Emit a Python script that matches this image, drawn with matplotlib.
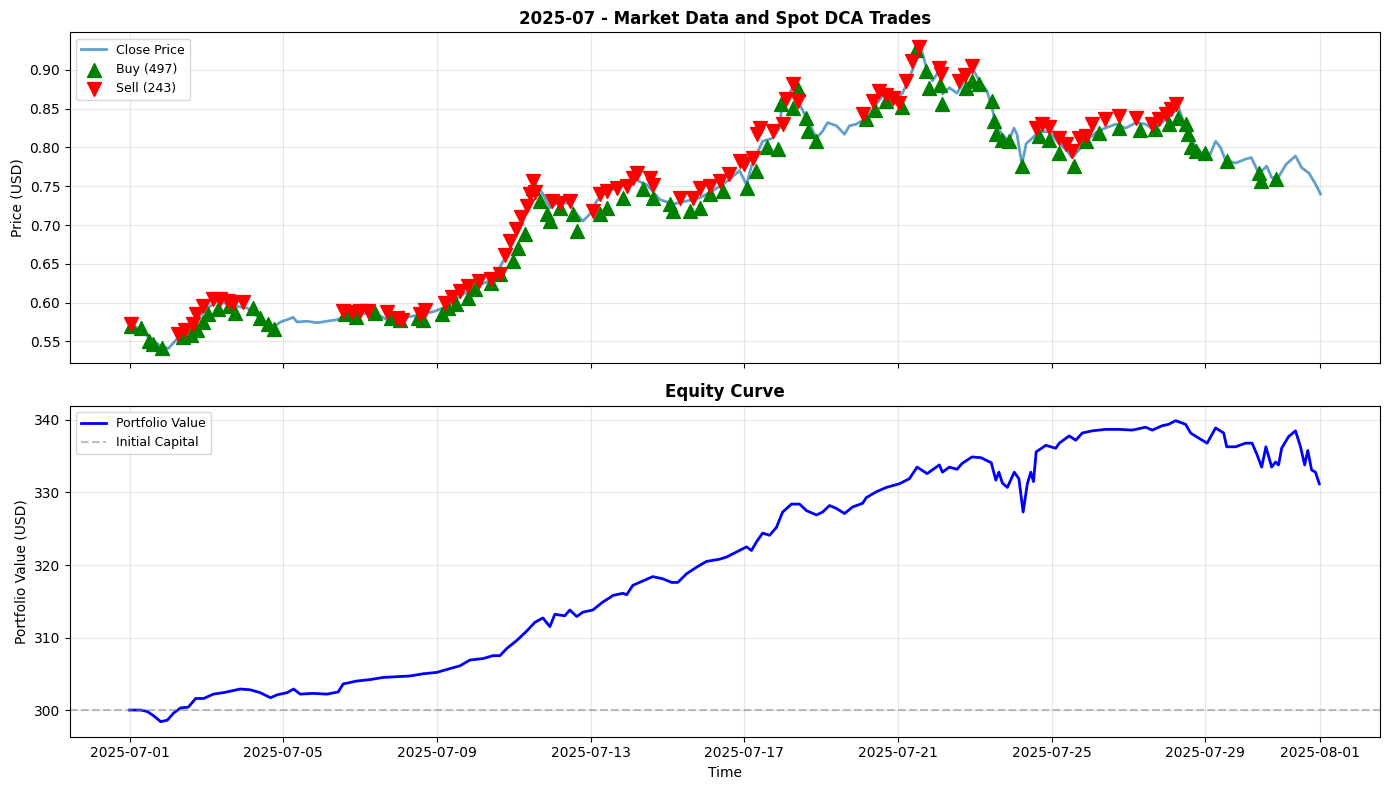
import matplotlib
matplotlib.use("Agg")
import matplotlib.pyplot as plt
import matplotlib.dates as mdates
import pandas as pd

# days since 2025-07-01 00:00
price_day = [0.0, 0.29, 0.55, 0.81, 1.01, 1.25, 1.51, 1.77, 2.03, 2.29, 2.55, 2.81, 3.07, 3.33,
             3.59, 3.75, 3.93, 4.10, 4.26, 4.36, 4.62, 4.88, 5.14, 5.40, 5.74, 6.08, 6.44, 6.70,
             6.96, 7.30, 7.64, 7.95, 8.26, 8.68, 9.12, 9.46, 9.72, 9.90, 10.08, 10.24, 10.42,
             10.55, 10.76, 10.94, 11.20, 11.46, 11.64, 11.80, 11.98, 12.16, 12.42, 12.76, 13.10,
             13.46, 13.80, 14.14, 14.50, 14.84, 15.18, 15.54, 15.88, 16.06, 16.20, 16.48, 16.74,
             16.92, 17.00, 17.18, 17.30, 17.44, 17.62, 17.88, 18.04, 18.17, 18.40, 18.61, 18.74,
             18.92, 19.18, 19.44, 19.70, 19.96, 20.12, 20.30, 20.48, 20.61, 20.74, 20.90, 21.08,
             21.16, 21.34, 21.54, 21.78, 21.93, 22.12, 22.32, 22.45, 22.55, 22.71, 22.89, 23.02,
             23.10, 23.23, 23.34, 23.50, 23.67, 23.94, 24.20, 24.40, 24.53, 24.70, 24.90, 25.15,
             25.40, 25.67, 25.93, 26.20, 26.45, 26.62, 26.87, 27.13, 27.31, 27.50, 27.65, 27.91,
             28.09, 28.27, 28.40, 28.53, 28.80, 29.05, 29.20, 29.40, 29.60, 29.73, 29.90, 30.10,
             30.35, 30.51, 30.70, 30.87, 31.0]
price = [0.573, 0.565, 0.553, 0.544, 0.541, 0.554, 0.567, 0.580, 0.593, 0.602, 0.598, 0.595, 0.593,
         0.582, 0.573, 0.569, 0.575, 0.578, 0.581, 0.575, 0.576, 0.574, 0.576, 0.578, 0.585, 0.586,
         0.585, 0.578, 0.576, 0.582, 0.585, 0.589, 0.595, 0.611, 0.623, 0.630, 0.653, 0.670, 0.688,
         0.705, 0.731, 0.754, 0.740, 0.722, 0.731, 0.727, 0.714, 0.705, 0.714, 0.731, 0.744, 0.748,
         0.760, 0.752, 0.733, 0.727, 0.731, 0.735, 0.744, 0.756, 0.770, 0.752, 0.778, 0.808, 0.812,
         0.825, 0.864, 0.869, 0.882, 0.856, 0.838, 0.812, 0.821, 0.832, 0.828, 0.817, 0.828, 0.830,
         0.838, 0.856, 0.873, 0.864, 0.870, 0.890, 0.912, 0.927, 0.903, 0.886, 0.899, 0.869, 0.877,
         0.870, 0.890, 0.903, 0.886, 0.873, 0.851, 0.830, 0.817, 0.808, 0.825, 0.817, 0.778, 0.805,
         0.812, 0.821, 0.820, 0.805, 0.796, 0.787, 0.796, 0.808, 0.819, 0.825, 0.830, 0.825, 0.832,
         0.830, 0.824, 0.832, 0.843, 0.851, 0.825, 0.808, 0.793, 0.787, 0.808, 0.800, 0.783, 0.780,
         0.785, 0.787, 0.766, 0.776, 0.761, 0.761, 0.778, 0.789, 0.774, 0.767, 0.753, 0.740]

buy_day = [0.05, 0.3, 0.5, 0.6, 0.85, 1.4, 1.6, 1.75, 1.9, 2.05, 2.3, 2.6, 2.75, 3.2, 3.4, 3.6, 3.75,
           5.6, 5.9, 6.4, 6.8, 7.05, 7.5, 7.64, 8.13, 8.3, 8.5, 8.8, 9.0, 9.4, 9.64, 9.98, 10.1, 10.3,
           10.5, 10.68, 10.86, 10.94, 11.2, 11.54, 11.64, 12.24, 12.42, 12.84, 13.36, 13.62, 14.06,
           14.14, 14.58, 14.84, 15.1, 15.44, 16.06, 16.3, 16.58, 16.87, 16.97, 17.26, 17.4, 17.62,
           17.65, 17.88, 19.18, 19.4, 19.7, 20.12, 20.48, 20.74, 20.82, 21.1, 21.16, 21.78, 21.93,
           22.1, 22.45, 22.5, 22.55, 22.71, 22.89, 23.23, 23.67, 23.94, 24.2, 24.58, 24.9, 25.23,
           25.76, 26.3, 26.7, 27.05, 27.3, 27.5, 27.55, 27.62, 27.75, 28.0, 28.56, 29.4, 29.45, 29.83]
buy_price = [0.570, 0.567, 0.551, 0.547, 0.541, 0.556, 0.558, 0.565, 0.575, 0.585, 0.592, 0.596,
             0.587, 0.593, 0.580, 0.573, 0.566, 0.585, 0.582, 0.586, 0.580, 0.577, 0.580, 0.578,
             0.585, 0.593, 0.598, 0.606, 0.617, 0.625, 0.637, 0.653, 0.670, 0.688, 0.748, 0.731,
             0.714, 0.705, 0.722, 0.714, 0.692, 0.714, 0.722, 0.735, 0.746, 0.735, 0.727, 0.718,
             0.718, 0.722, 0.740, 0.744, 0.748, 0.770, 0.800, 0.798, 0.856, 0.851, 0.875, 0.838,
             0.821, 0.808, 0.837, 0.848, 0.860, 0.852, 0.925, 0.899, 0.877, 0.880, 0.856, 0.877,
             0.886, 0.882, 0.860, 0.834, 0.817, 0.810, 0.808, 0.776, 0.815, 0.810, 0.793, 0.776,
             0.808, 0.819, 0.825, 0.822, 0.824, 0.830, 0.838, 0.830, 0.817, 0.800, 0.796, 0.793,
             0.783, 0.767, 0.757, 0.759]

sell_day = [0.05, 1.27, 1.45, 1.64, 1.72, 1.9, 2.18, 2.35, 2.55, 2.7, 2.96, 5.55, 5.8, 6.0, 6.2, 6.7,
            6.95, 7.1, 7.55, 7.7, 8.2, 8.4, 8.6, 8.8, 9.1, 9.4, 9.64, 9.77, 9.9, 10.05, 10.2, 10.35,
            10.42, 10.5, 10.55, 11.0, 11.2, 11.46, 12.06, 12.24, 12.42, 12.7, 12.95, 13.1, 13.2,
            13.54, 13.62, 14.32, 14.66, 14.84, 15.1, 15.36, 15.6, 15.88, 16.0, 16.22, 16.32, 16.4,
            16.74, 17.0, 17.1, 17.26, 17.4, 19.08, 19.34, 19.5, 19.7, 19.86, 20.04, 20.2, 20.38,
            20.56, 21.08, 21.12, 21.6, 21.75, 21.93, 23.6, 23.76, 23.94, 24.2, 24.37, 24.53, 24.71,
            24.9, 25.05, 25.4, 25.76, 26.2, 26.62, 26.8, 26.98, 27.1, 27.23]
sell_price = [0.573, 0.560, 0.565, 0.573, 0.585, 0.595, 0.605, 0.605, 0.602, 0.600, 0.601, 0.589,
              0.588, 0.589, 0.589, 0.588, 0.580, 0.578, 0.585, 0.590, 0.599, 0.607, 0.615, 0.622,
              0.628, 0.631, 0.637, 0.662, 0.679, 0.695, 0.710, 0.725, 0.740, 0.757, 0.742, 0.731,
              0.728, 0.731, 0.718, 0.740, 0.744, 0.748, 0.750, 0.760, 0.767, 0.760, 0.752, 0.735,
              0.735, 0.748, 0.750, 0.757, 0.766, 0.783, 0.779, 0.787, 0.817, 0.825, 0.821, 0.830,
              0.862, 0.882, 0.860, 0.843, 0.860, 0.873, 0.868, 0.864, 0.857, 0.886, 0.912, 0.929,
              0.903, 0.895, 0.886, 0.893, 0.905, 0.825, 0.830, 0.826, 0.812, 0.805, 0.796, 0.812,
              0.815, 0.830, 0.837, 0.840, 0.838, 0.830, 0.837, 0.843, 0.850, 0.856]

n_buys = 497
n_sells = 243

equity_day = [0.0, 0.29, 0.46, 0.63, 0.81, 0.98, 1.15, 1.33, 1.53, 1.72, 1.93, 2.18, 2.44, 2.62,
              2.88, 3.14, 3.40, 3.67, 3.84, 4.10, 4.27, 4.44, 4.78, 5.14, 5.43, 5.56, 5.91, 6.26,
              6.60, 6.96, 7.30, 7.64, 8.00, 8.26, 8.60, 8.86, 9.20, 9.46, 9.64, 9.82, 10.08, 10.34,
              10.55, 10.76, 10.94, 11.07, 11.33, 11.46, 11.64, 11.80, 12.06, 12.32, 12.50, 12.58,
              12.84, 12.94, 13.10, 13.36, 13.62, 13.88, 14.11, 14.27, 14.50, 14.76, 15.02, 15.36,
              15.54, 15.80, 16.06, 16.19, 16.32, 16.48, 16.66, 16.84, 17.00, 17.23, 17.44, 17.62,
              17.88, 18.04, 18.22, 18.40, 18.61, 18.82, 19.08, 19.18, 19.44, 19.70, 20.04, 20.30,
              20.50, 20.76, 21.08, 21.16, 21.34, 21.54, 21.67, 21.93, 22.16, 22.43, 22.55, 22.63,
              22.72, 22.85, 23.03, 23.15, 23.26, 23.37, 23.46, 23.53, 23.60, 23.85, 24.11, 24.20,
              24.46, 24.63, 24.80, 25.06, 25.41, 25.76, 26.10, 26.45, 26.62, 26.88, 27.05, 27.23,
              27.49, 27.62, 27.83, 28.05, 28.27, 28.48, 28.56, 28.79, 29.05, 29.22, 29.35, 29.47,
              29.58, 29.73, 29.83, 29.91, 29.99, 30.17, 30.35, 30.48, 30.59, 30.67, 30.77, 30.87,
              30.97]
equity = [300.0, 300.0, 299.8, 299.2, 298.4, 298.6, 299.6, 300.3, 300.4, 301.6, 301.6, 302.2, 302.4,
          302.6, 302.9, 302.8, 302.4, 301.7, 302.1, 302.4, 302.9, 302.2, 302.3, 302.2, 302.5, 303.6,
          304.0, 304.2, 304.5, 304.6, 304.7, 305.0, 305.2, 305.6, 306.1, 306.9, 307.1, 307.5, 307.5,
          308.5, 309.6, 310.9, 312.1, 312.7, 311.5, 313.2, 313.0, 313.8, 312.9, 313.5, 313.8, 314.9,
          315.5, 315.8, 316.1, 315.9, 317.2, 317.8, 318.4, 318.1, 317.6, 317.6, 318.8, 319.7, 320.5,
          320.8, 321.1, 321.8, 322.5, 322.0, 323.2, 324.4, 324.1, 325.2, 327.3, 328.4, 328.4, 327.5,
          326.9, 327.3, 328.2, 327.8, 327.1, 328.0, 328.5, 329.3, 330.1, 330.7, 331.2, 331.9, 333.5,
          332.6, 333.8, 332.8, 333.5, 333.2, 334.0, 334.9, 334.8, 334.1, 331.7, 332.8, 331.3, 330.7,
          332.8, 331.9, 327.3, 331.2, 332.8, 331.5, 335.6, 336.5, 336.1, 336.8, 337.8, 337.2, 338.2,
          338.5, 338.7, 338.7, 338.6, 339.0, 338.6, 339.2, 339.4, 339.9, 339.4, 338.2, 337.5, 336.8,
          338.9, 338.2, 336.3, 336.3, 336.8, 336.8, 335.2, 333.5, 336.3, 333.5, 334.2, 333.8, 336.1,
          337.7, 338.5, 336.3, 333.8, 335.8, 333.1, 332.8, 331.2]

initial_capital = 300

start = pd.Timestamp("2025-07-01")


def to_time(days):
    return start + pd.to_timedelta(days, unit="D")


fig, (ax1, ax2) = plt.subplots(2, 1, figsize=(14, 8), sharex=True)

# price + trades
ax1.plot(to_time(price_day), price, color="tab:blue", alpha=0.7, linewidth=2, label="Close Price")
ax1.scatter(to_time(buy_day), buy_price, marker="^", color="green", s=100, zorder=5,
            label=f"Buy ({n_buys})")
ax1.scatter(to_time(sell_day), sell_price, marker="v", color="red", s=100, zorder=5,
            label=f"Sell ({n_sells})")
ax1.set_title("2025-07 - Market Data and Spot DCA Trades", fontsize=12, fontweight="bold")
ax1.set_ylabel("Price (USD)")
ax1.legend(loc="upper left", fontsize=9)
ax1.grid(True, alpha=0.3)

# equity
ax2.plot(to_time(equity_day), equity, color="blue", linewidth=2, label="Portfolio Value")
ax2.axhline(initial_capital, color="gray", linestyle="--", alpha=0.5, label="Initial Capital")
ax2.set_title("Equity Curve", fontsize=12, fontweight="bold")
ax2.set_ylabel("Portfolio Value (USD)")
ax2.set_xlabel("Time")
ax2.legend(loc="upper left", fontsize=9)
ax2.grid(True, alpha=0.3)

ax2.xaxis.set_major_locator(mdates.DayLocator(bymonthday=[1, 5, 9, 13, 17, 21, 25, 29]))
ax2.xaxis.set_major_formatter(mdates.DateFormatter("%Y-%m-%d"))

plt.tight_layout()
plt.savefig("out.png", dpi=100, bbox_inches="tight")
